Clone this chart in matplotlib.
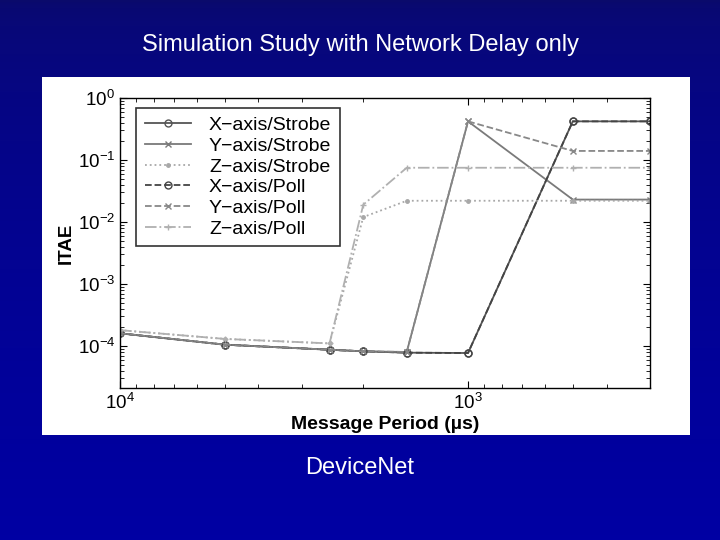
import matplotlib
matplotlib.use("Agg")
import matplotlib.pyplot as plt
from matplotlib.patches import Rectangle
import numpy as np

plt.rcParams['font.family'] = ['Liberation Sans', 'DejaVu Sans']
plt.rcParams['mathtext.fontset'] = 'custom'
plt.rcParams['mathtext.rm'] = 'Liberation Sans:bold'
plt.rcParams['mathtext.it'] = 'Liberation Sans:bold'

# message period (us)
periods = [10000, 5000, 2500, 2000, 1500, 1000, 500, 300]

x_strobe = [1.6e-4, 1.05e-4, 8.7e-5, 8.2e-5, 7.8e-5, 7.7e-5, 0.42, 0.42]
y_strobe = [1.6e-4, 1.05e-4, 8.7e-5, 8.2e-5, 8.0e-5, 0.42, 0.023, 0.023]
z_strobe = [1.8e-4, 1.3e-4, 1.1e-4, 0.012, 0.022, 0.022, 0.022, 0.022]
x_poll = [1.6e-4, 1.05e-4, 8.7e-5, 8.2e-5, 7.8e-5, 7.7e-5, 0.42, 0.42]
y_poll = [1.6e-4, 1.05e-4, 8.7e-5, 8.2e-5, 8.0e-5, 0.42, 0.14, 0.14]
z_poll = [1.8e-4, 1.3e-4, 1.1e-4, 0.019, 0.075, 0.075, 0.075, 0.075]

series = [
    ("X\u2212axis/Strobe", x_strobe, '-', 'o', '#555555'),
    ("Y\u2212axis/Strobe", y_strobe, '-', 'x', '#7a7a7a'),
    ("Z\u2212axis/Strobe", z_strobe, ':', '.', '#a8a8a8'),
    ("X\u2212axis/Poll", x_poll, '--', 'o', '#444444'),
    ("Y\u2212axis/Poll", y_poll, '--', 'x', '#888888'),
    ("Z\u2212axis/Poll", z_poll, '-.', '+', '#b0b0b0'),
]

fig = plt.figure(figsize=(7.2, 5.4), dpi=100)

# slide background
bg = fig.add_axes([0, 0, 1, 1], zorder=-10)
grad = np.linspace(0, 1, 256).reshape(-1, 1)
top = np.array([0.04, 0.04, 0.42])
bot = np.array([0.0, 0.0, 0.64])
img = top + (bot - top) * grad[..., None] ** 0.5
bg.imshow(img, aspect='auto', extent=[0, 1, 0, 1])
bg.set_axis_off()

fig.patches.append(Rectangle((42 / 720, 1 - 435 / 540), 648 / 720, 358 / 540,
                             transform=fig.transFigure, facecolor='white',
                             edgecolor='none', zorder=-5))

fig.text(0.5, 1 - 45 / 540, "Simulation Study with Network Delay only",
         color='white', fontsize=17, ha='center', va='center')
fig.text(0.5, 1 - 468 / 540, "DeviceNet",
         color='white', fontsize=17, ha='center', va='center')

ax = fig.add_axes([120 / 720, 1 - 388 / 540, 530 / 720, 290 / 540])
ax.set_facecolor('white')
for label, vals, ls, mk, col in series:
    ax.plot(periods, vals, linestyle=ls, marker=mk, color=col, linewidth=1.3,
            markersize=5, markerfacecolor='none' if mk == 'o' else col,
            label=label)

ax.set_xscale('log')
ax.set_yscale('log')
ax.set_xlim(10000, 300)
ax.set_ylim(2.1e-5, 1)
ax.set_xticks([1e4, 1e3])
ax.set_yticks([1e-4, 1e-3, 1e-2, 1e-1, 1e0])
ax.tick_params(which='both', direction='in', top=True, right=True,
               labelsize=13.5, colors='black')
ax.tick_params(which='major', length=5)
ax.tick_params(which='minor', length=3)
for s in ax.spines.values():
    s.set_linewidth(1.0)

ax.set_xlabel("Message Period (\u00b5s)", fontsize=14, fontweight='bold',
              labelpad=2)
ax.set_ylabel("ITAE", fontsize=13.5, fontweight='bold', labelpad=2)

leg = ax.legend(loc='upper left', bbox_to_anchor=(0.012, 1.0), fontsize=14,
                handlelength=2.4, frameon=True, fancybox=False,
                edgecolor='black', borderpad=0.45, labelspacing=0.16,
                handletextpad=0.9)
leg.get_frame().set_linewidth(1.2)

fig.savefig("out.png", dpi=100)
